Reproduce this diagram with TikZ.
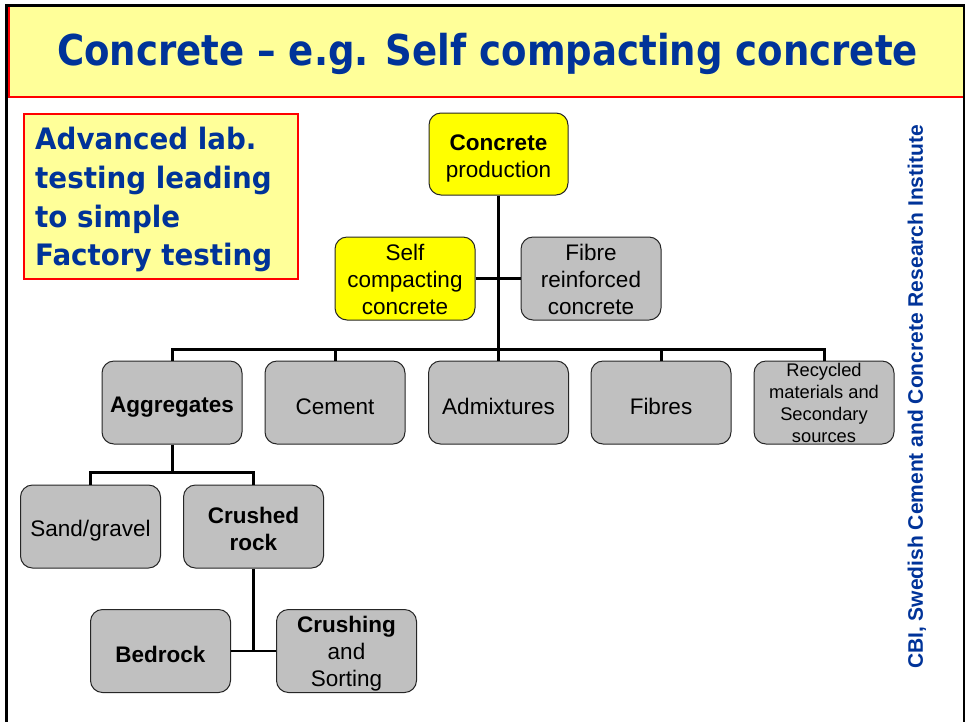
\documentclass[tikz,border=0pt]{standalone}
\usepackage{fontspec}
\setmainfont{Liberation Sans}
\newfontfamily\comic{DejaVu Sans}
\definecolor{titleblue}{RGB}{0,51,153}
\definecolor{paleyellow}{RGB}{255,255,153}
\definecolor{boxgray}{RGB}{192,192,192}
\definecolor{brightyellow}{RGB}{255,255,0}
\newcommand{\lift}[1]{\rule{0pt}{#1pt}}
\begin{document}
\begin{tikzpicture}[x=1pt,y=-1pt,
  chartbox/.style={draw=black!85, line width=1pt, rounded corners=12pt,
    minimum width=140pt, minimum height=83pt, inner sep=0pt, align=center,
    font=\fontsize{22.5}{27}\selectfont, fill=boxgray},
  yellowbox/.style={chartbox, fill=brightyellow},
  smallbox/.style={chartbox, font=\fontsize{18.3}{22}\selectfont},
  conn/.style={line width=3pt, black},
  advtext/.style={anchor=base west, inner sep=0pt, text=titleblue,
    font=\comic\bfseries\fontsize{29.5}{36}\selectfont}]
\useasboundingbox (0,0) rectangle (968,721);
\fill[white] (0,0) rectangle (968,721);
% title band
\draw[red, line width=2pt, fill=paleyellow] (9,6) rectangle (964,97);
% outer frame
\draw[black, line width=2.5pt] (6.5,5.5) rectangle (964,740);
\node[anchor=base, inner sep=0pt, text=titleblue,
  font=\comic\bfseries\fontsize{42.5}{50}\selectfont] (title) at (487.5,65)
  {\scalebox{0.873}[1]{Concrete – e.g. Self compacting concrete}};
% left note box
\draw[red, line width=2pt, fill=paleyellow] (24,114) rectangle (298,279);
\node[advtext] (adv1) at (35,149) {\scalebox{0.94}[1]{Advanced lab.}};
\node[advtext] (adv2) at (35,188) {\scalebox{0.94}[1]{testing leading}};
\node[advtext] (adv3) at (35,227) {\scalebox{0.94}[1]{to simple}};
\node[advtext] (adv4) at (35,265.5) {\scalebox{0.94}[1]{Factory testing}};
% side text
\node[rotate=90, inner sep=0pt, text=titleblue,
  font=\bfseries\fontsize{21}{25}\selectfont] (cbi) at (917,397)
  {CBI, Swedish Cement and Concrete Research Institute};
% boxes
\node[yellowbox, minimum width=139pt, minimum height=82pt] (prod) at (498.5,154) {\lift{24.4}\textbf{Concrete}\\production};
\node[yellowbox] (scc) at (405,278.5) {\lift{18.4}Self\\compacting\\concrete};
\node[chartbox] (frc) at (591,278.5) {\lift{18.4}Fibre\\reinforced\\concrete};
\node[chartbox] (agg) at (172,402.5) {\lift{24}\textbf{Aggregates}};
\node[chartbox] (cem) at (335,402.5) {\lift{24}Cement};
\node[chartbox] (adm) at (498.5,402.5) {\lift{24}Admixtures};
\node[chartbox] (fib) at (661,402.5) {\lift{24}Fibres};
\node[smallbox] (rec) at (824,402.5) {Recycled\\materials and\\Secondary\\sources};
\node[chartbox] (sand) at (90.5,526.5) {\lift{24}Sand/gravel};
\node[chartbox] (crock) at (253.5,526.5) {\lift{20.4}\textbf{Crushed}\\\textbf{rock}};
\node[chartbox] (bed) at (160.5,651) {\lift{24}\textbf{Bedrock}};
\node[chartbox] (crush) at (346.5,651) {\lift{22.4}\textbf{Crushing}\\and\\Sorting};
% connectors
\coordinate (bus) at (0,349);
\coordinate (agbus) at (0,472.5);
\draw[conn] (prod.south) -- (prod.south |- bus);
\draw[conn] (agg.north) -- (agg.north |- bus) -- (rec.north |- bus) -- (rec.north);
\draw[conn] (cem.north) -- (cem.north |- bus);
\draw[conn] (adm.north) -- (adm.north |- bus);
\draw[conn] (fib.north) -- (fib.north |- bus);
\draw[conn, line width=2.5pt] (scc.east) -- (frc.west);
\draw[conn] (agg.south) -- (agg.south |- agbus);
\draw[conn] (sand.north) -- (sand.north |- agbus) -- (crock.north |- agbus) -- (crock.north);
\draw[conn] (crock.south) -- (crock.south |- bed.east);
\draw[conn, line width=2.5pt] (bed.east) -- (crush.west);
\end{tikzpicture}
\end{document}
